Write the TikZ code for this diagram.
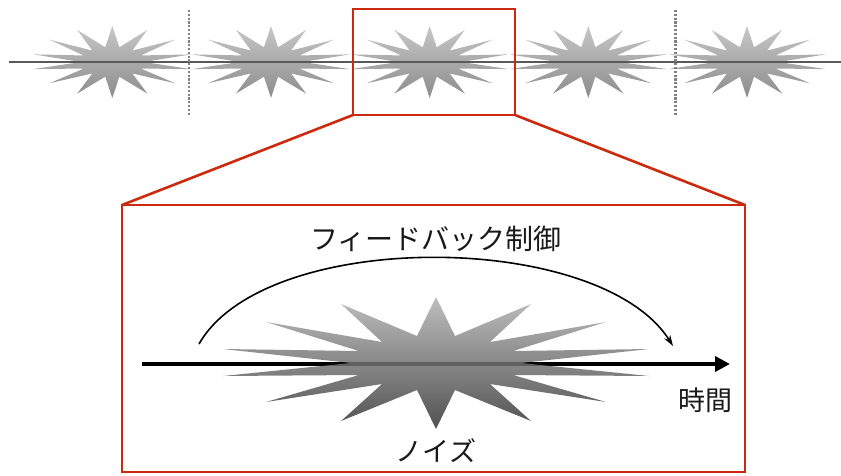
\documentclass[tikz,border=0pt]{standalone}
\usepackage{fontspec}
\newfontfamily\jpfont{Noto Sans CJK JP}
\usetikzlibrary{positioning,arrows.meta}

\definecolor{zoomred}{RGB}{204,42,14}

\tikzset{
  % star shaped noise burst, centred on the pic origin
  burst/.pic={
    \path[pic actions] (0,-66) -- (19,-27) -- (95,-59) -- (54,-21) -- (170,-41) -- (77,-12)
      -- (213,-14) -- (85,0) -- (213,13) -- (77,12) -- (170,39) -- (54,21) -- (95,58)
      -- (19,27) -- (0,66) -- (-19,27) -- (-95,58) -- (-54,21) -- (-170,39) -- (-77,12)
      -- (-213,13) -- (-85,0) -- (-213,-14) -- (-77,-12) -- (-170,-41) -- (-54,-21)
      -- (-95,-59) -- (-19,-27) -- cycle;
  },
  smallburst/.style={top color=black!22,bottom color=black!45,xscale=.37,yscale=.545},
  bigburst/.style={top color=black!30,bottom color=black!80,fill opacity=.85},
  zoomframe/.style={draw=zoomred,line width=2.6pt,inner sep=0pt,outer sep=0pt},
  jplabel/.style={font=\jpfont\fontsize{27}{30}\selectfont,text=black!90},
}

\begin{document}
\begin{tikzpicture}[x=1pt,y=-1pt]
  \useasboundingbox (0,0) rectangle (841,475);

  % row of repeated noise events
  \foreach \cx in {112.3,271,429.7,588.3,747}
    \pic[smallburst] at (\cx,62) {burst};
  \coordinate (l0) at (9,62);
  \coordinate (l1) at (841,62);
  \draw[black!65,line width=2.4pt] (l0) -- (l1);
  \foreach \sx in {189,675.7}
    \draw[black!50,line width=2.6pt,dash pattern=on 2.2pt off 1.6pt] (\sx,10) -- (\sx,116);

  % zoomed part
  \node[zoomframe,minimum width=162pt,minimum height=106pt] (pick) at (434,62) {};
  \node[zoomframe,minimum width=623pt,minimum height=267pt] (detail) at (433.5,338.5) {};
  \draw[zoomred,line width=2.6pt] (pick.south west) -- (detail.north west);
  \draw[zoomred,line width=2.6pt] (pick.south east) -- (detail.north east);

  \coordinate (t0) at (142,364);
  \coordinate (t1) at (730,364);
  \draw[line width=4.4pt,-{Triangle[length=15pt,width=15pt]}] (t0) -- (t1);
  \pic[bigburst] at (436,363) {burst};

  \coordinate (fb0) at (199,344);
  \coordinate (fb1) at (673,346);
  \draw[line width=1.6pt,-{Stealth[length=11pt,width=7pt]}]
    (fb0) .. controls (265,228) and (600,230) .. (fb1);

  \node[jplabel,font=\jpfont\fontsize{28}{30}\selectfont] (fb) at (436,239) {フィードバック制御};
  \node[jplabel] (time) at (705,400) {時間};
  \node[jplabel] (noise) at (436,451) {ノイズ};
\end{tikzpicture}
\end{document}
